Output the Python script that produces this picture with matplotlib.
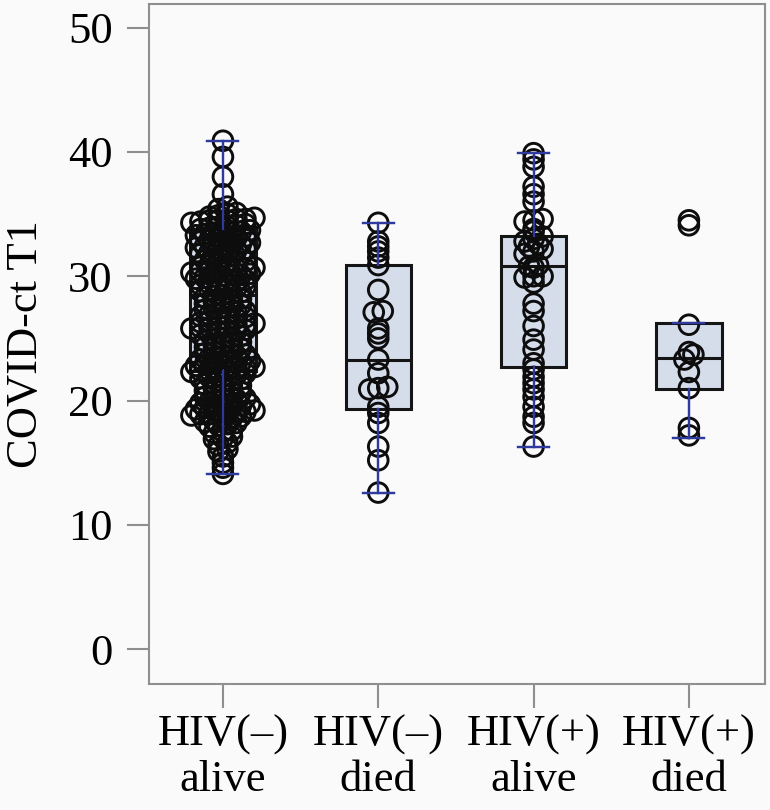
import matplotlib
matplotlib.use('Agg')
import matplotlib.pyplot as plt
import numpy as np

# ---- data ----
groups = ['HIV(\u2013)\nalive', 'HIV(\u2013)\ndied', 'HIV(+)\nalive', 'HIV(+)\ndied']

ct_hiv_neg_alive = [
    40.9, 39.6, 38.0, 36.6,
    35.6, 35.4,
    35.1, 34.9, 35.0, 34.8,
    34.6, 34.5, 34.4, 34.5, 34.7, 34.3, 34.5, 34.6,
    34.1, 33.9, 34.0, 34.2, 33.8, 34.0,
    33.6, 33.5, 33.4, 33.5, 33.7, 33.3, 33.5,
    33.1, 32.9, 33.0, 33.2, 32.8, 33.0,
    32.6, 32.4, 32.5, 32.7, 32.3, 32.5, 32.6,
    32.1, 31.9, 32.0, 32.2, 31.8, 32.0,
    31.6, 31.4, 31.5, 31.3, 31.7,
    31.1, 30.9, 31.0, 30.8, 31.2, 31.0,
    30.6, 30.4, 30.5, 30.7, 30.3, 30.5, 30.6, 30.4,
    30.1, 29.9, 30.0, 30.2, 29.8, 30.0, 30.1,
    29.6, 29.4, 29.5, 29.7, 29.3, 29.5,
    29.1, 28.9, 29.0, 28.8, 29.2, 29.0,
    28.6, 28.4, 28.5, 28.7, 28.3,
    28.1, 27.9, 28.0, 28.2, 27.8,
    27.6, 27.4, 27.5, 27.3, 27.7,
    27.1, 26.9, 27.0, 27.2, 26.8, 27.0,
    26.6, 26.4, 26.5, 26.7, 26.3, 26.5,
    26.1, 25.9, 26.0, 26.2, 25.8, 26.0, 26.1, 25.9,
    25.6, 25.4, 25.5, 25.7, 25.3, 25.5,
    25.1, 24.9, 25.0, 25.2, 24.8,
    24.6, 24.4, 24.5, 24.7, 24.3,
    24.1, 23.9, 24.0, 24.2, 23.8,
    23.6, 23.4, 23.5, 23.7, 23.3, 23.5,
    23.1, 22.9, 23.0, 23.2, 22.8, 23.0, 23.1,
    22.6, 22.4, 22.5, 22.7, 22.3, 22.5, 22.6, 22.4,
    22.1, 21.9, 22.0, 22.2, 21.8, 22.0,
    21.6, 21.4, 21.5, 21.7, 21.3,
    21.1, 20.9, 21.0, 21.2, 20.8,
    20.6, 20.4, 20.5, 20.7, 20.3,
    20.1, 19.9, 20.0, 20.2, 19.8, 20.0,
    19.6, 19.4, 19.5, 19.7, 19.3, 19.5, 19.6,
    19.1, 18.9, 19.0, 19.2, 18.8, 19.0, 19.1, 18.9,
    18.6, 18.4, 18.5, 18.7, 18.3,
    18.1, 17.9, 18.0, 18.2,
    17.6, 17.4, 17.5,
    17.1, 16.9, 17.0,
    16.6, 16.4,
    16.1, 15.9,
    15.5, 15.0, 14.6, 14.1,
]
ct_hiv_neg_died = [34.3, 32.8, 32.4, 32.0, 31.5, 30.9, 28.9, 27.2, 27.1, 25.8, 25.4, 25.0,
                   23.3, 22.2, 21.1, 21.0, 20.9, 19.5, 19.0, 18.2, 16.3, 15.2, 12.6]
ct_hiv_pos_alive = [39.9, 39.4, 38.8, 37.2, 36.6, 36.0, 34.6, 34.5, 34.4, 33.8, 33.6, 33.2,
                    33.0, 32.8, 32.6, 32.4, 32.2, 32.0, 31.8, 30.9, 30.8, 30.7, 30.0, 30.0,
                    29.9, 29.5, 27.8, 27.2, 26.0, 24.9, 24.1, 23.0, 22.5, 21.9, 21.4, 20.9,
                    20.3, 19.5, 18.7, 18.2, 16.3]
ct_hiv_pos_died = [34.5, 34.1, 26.1, 23.9, 23.7, 23.3, 22.3, 21.0, 17.8, 17.2]

# box summaries (whisker low, Q1, median, Q3, whisker high)
whis_lo = [14.1, 12.6, 16.3, 17.0]
q1 = [22.4, 19.3, 22.7, 20.9]
med = [28.5, 23.3, 30.8, 23.4]
q3 = [33.8, 30.9, 33.2, 26.2]
whis_hi = [40.9, 34.3, 39.9, 26.2]

# ---- styling ----
plt.rcParams['font.family'] = ['Liberation Serif', 'DejaVu Serif']
bg = '#fafafa'
box_fill = '#d5dcea'
whisker_blue = '#2e3a9e'
spine_grey = '#8f8f8f'

fig = plt.figure(figsize=(7.7, 8.1), dpi=100, facecolor=bg)
ax = fig.add_axes([149 / 770, 1 - 684 / 810, 616 / 770, 680 / 810], facecolor=bg)

positions = np.arange(len(groups))
stats = []
for i in range(len(groups)):
    stats.append({'whislo': whis_lo[i], 'q1': q1[i], 'med': med[i], 'q3': q3[i],
                  'whishi': whis_hi[i], 'fliers': []})

ax.bxp(stats, positions=positions, widths=0.42, patch_artist=True, showfliers=False,
       boxprops=dict(facecolor=box_fill, edgecolor='#151515', linewidth=2.2),
       medianprops=dict(color='#151515', linewidth=2.2),
       whiskerprops=dict(color=whisker_blue, linewidth=1.6),
       capprops=dict(color=whisker_blue, linewidth=1.6),
       capwidths=0.2, zorder=2)

# dot strip: points sharing a value bin are spread sideways
bin_w = 0.5
step = 0.058
all_groups = [ct_hiv_neg_alive, ct_hiv_neg_died, ct_hiv_pos_alive, ct_hiv_pos_died]
for pos, vals in zip(positions, all_groups):
    vals = np.sort(np.asarray(vals))
    rows = np.round(vals / bin_w).astype(int)
    xs = np.zeros_like(vals)
    for r in np.unique(rows):
        idx = np.where(rows == r)[0]
        n = len(idx)
        xs[idx] = pos + (np.arange(n) - (n - 1) / 2) * step
    ax.scatter(xs, vals, s=200, facecolors='none', edgecolors='#0d0d0d',
               linewidths=2.1, zorder=3)

# re-draw whiskers on top of the points, as in the reference
for i, pos in enumerate(positions):
    ax.plot([pos, pos], [whis_lo[i], q1[i]], color=whisker_blue, lw=1.6, zorder=4)
    ax.plot([pos, pos], [q3[i], whis_hi[i]], color=whisker_blue, lw=1.6, zorder=4)
    ax.plot([pos - 0.1, pos + 0.1], [whis_lo[i]] * 2, color=whisker_blue, lw=1.6, zorder=4)
    ax.plot([pos - 0.1, pos + 0.1], [whis_hi[i]] * 2, color=whisker_blue, lw=1.6, zorder=4)

ax.set_xlim(-0.476, 3.49)
ax.set_ylim(-2.8, 51.9)
ax.set_yticks([0, 10, 20, 30, 40, 50])
ax.set_xticks(positions)
ax.set_xticklabels(groups, fontsize=32, linespacing=1.15)
ax.tick_params(axis='y', labelsize=32, length=16, width=1.5, color=spine_grey, pad=10)
ax.tick_params(axis='x', length=17, width=1.5, color=spine_grey, pad=5)
for sp in ax.spines.values():
    sp.set_color(spine_grey)
    sp.set_linewidth(1.5)

ax.set_ylabel('COVID-ct T1', fontsize=32, va='center')
ax.yaxis.set_label_coords(-0.2, 0.5)

fig.savefig('out.png', dpi=100, facecolor=bg)
